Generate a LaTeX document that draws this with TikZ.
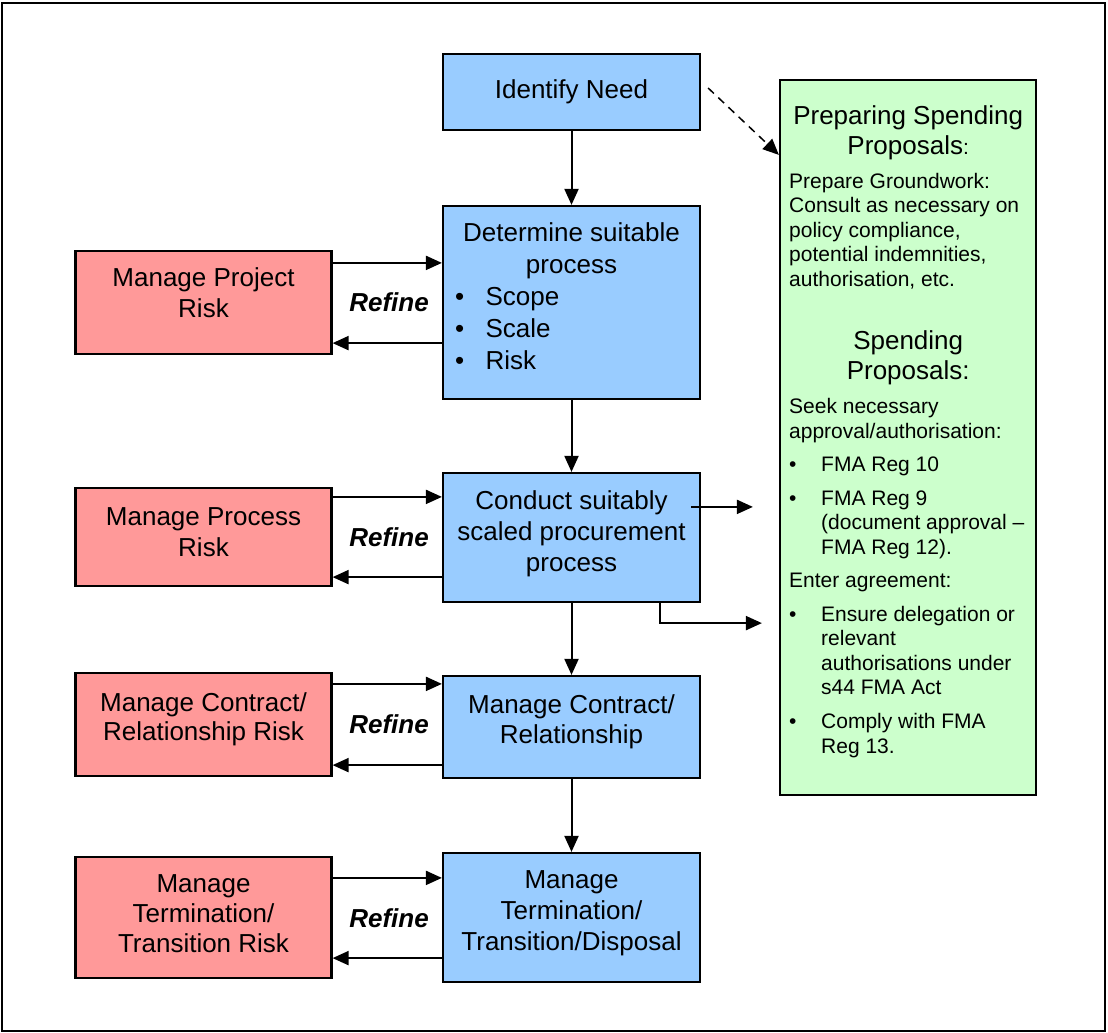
\documentclass[tikz,border=0pt]{standalone}
\usepackage{fontspec}
\setmainfont{Liberation Sans}
\usetikzlibrary{arrows.meta,calc}
\definecolor{boxblue}{HTML}{99CCFF}
\definecolor{boxred}{HTML}{FF9999}
\definecolor{boxgreen}{HTML}{CCFFCC}
\newcommand{\detitem}[1]{\makebox[233pt][l]{\textbullet\hspace{21.4pt}#1}}
\newcommand{\gitem}{\hangindent=32pt\hangafter=1\makebox[32pt][l]{\textbullet}}
\begin{document}
\begin{tikzpicture}[x=1pt,y=-1pt,
  box/.style={draw=black, line width=2.2pt, inner sep=0pt, align=center,
    font=\fontsize{26}{31}\selectfont, text depth=0pt},
  bluebox/.style={box, fill=boxblue, minimum width=257pt},
  redbox/.style={box, fill=boxred, minimum width=256pt},
  tip/.style={-{Triangle[length=16pt,width=14pt]}},
  arr/.style={line width=2pt, tip},
  refine/.style={inner sep=0pt, font=\fontsize{26}{30}\selectfont\bfseries\itshape}]
\useasboundingbox (0,0) rectangle (1108,1033);
\draw[line width=2pt] (2,3) rectangle (1105,1031);

% blue process boxes
\node[bluebox, minimum height=76pt, text height=12pt] (need) at (571.5,92) {Identify Need};
\node[bluebox, minimum height=193pt, text height=133pt, font=\fontsize{26}{32}\selectfont] (det) at (571.5,302.5)
  {Determine suitable\\process\\\detitem{Scope}\\\detitem{Scale}\\\detitem{Risk}};
\node[bluebox, minimum height=129pt, text height=67pt] (cond) at (571.5,537.5)
  {Conduct suitably\\scaled procurement\\process};
\node[bluebox, minimum height=102pt, text height=32pt, font=\fontsize{26}{30}\selectfont] (mc) at (571.5,727)
  {Manage Contract/\\Relationship};
\node[bluebox, minimum height=129pt, text height=65pt] (mt) at (571.5,917.5)
  {Manage\\Termination/\\Transition/Disposal};

% red risk boxes
\node[redbox, minimum height=103pt, text height=29pt] (rp) at (203.5,302.5) {Manage Project\\Risk};
\node[redbox, minimum height=98pt, text height=38pt] (rproc) at (203.5,537) {Manage Process\\Risk};
\node[redbox, minimum height=103pt, text height=31pt, font=\fontsize{26}{28.5}\selectfont] (rc) at (203.5,724.5) {Manage Contract/\\Relationship Risk};
\node[redbox, minimum height=121pt, text height=69pt, font=\fontsize{26}{30}\selectfont] (rt) at (203.5,917.5) {Manage\\Termination/\\Transition Risk};

% refine labels
\node[refine] (ref1) at (389,302) {Refine};
\node[refine] (ref2) at (389,537) {Refine};
\node[refine] (ref3) at (389,724) {Refine};
\node[refine] (ref4) at (389,918) {Refine};

% green box
\node[draw=black, fill=boxgreen, line width=2.2pt, inner sep=0pt,
  minimum width=256pt, minimum height=715pt] (green) at (908,437.5) {};
\node[anchor=base west, inner sep=0pt] (gtext) at (789,124) {\parbox[t]{238pt}{%
\fontsize{26}{30}\selectfont
{\centering Preparing Spending\\Proposals{\fontsize{21}{24.5}\selectfont:}\par}
\fontsize{21}{24.5}\selectfont\raggedright
\vspace{10pt}
Prepare Groundwork:\\Consult as necessary on\\policy compliance,\\potential indemnities,\\authorisation, etc.\par
\vspace{32.5pt}
{\fontsize{26}{30}\selectfont\centering Spending\\Proposals:\par}
\vspace{10pt}
Seek necessary\\approval/authorisation:\par
\vspace{8.5pt}
\gitem FMA Reg 10\par
\vspace{9.5pt}
\gitem FMA Reg 9\newline(document approval –\newline FMA Reg 12).\par
\vspace{8.5pt}
Enter agreement:\par
\vspace{9.5pt}
\gitem Ensure delegation or\newline relevant\newline authorisations under\newline s44 FMA Act\par
\vspace{9.5pt}
\gitem Comply with FMA\newline Reg 13.\par}};

% main flow
\draw[arr] (need.south) -- (det.north);
\draw[arr] (det.south) -- (cond.north);
\draw[arr] (cond.south) -- (mc.north);
\draw[arr] (mc.south) -- (mt.north);

% refine loops
\coordinate (a1) at ([yshift=-13pt]rp.north east);
\coordinate (b1) at ([yshift=12pt]rp.south east);
\draw[arr] (a1) -- (a1 -| det.west);
\draw[arr] (b1 -| det.west) -- (b1);
\coordinate (a2) at ([yshift=-10pt]rproc.north east);
\coordinate (b2) at ([yshift=10pt]rproc.south east);
\draw[arr] (a2) -- (a2 -| cond.west);
\draw[arr] (b2 -| cond.west) -- (b2);
\coordinate (a3) at ([yshift=-12pt]rc.north east);
\coordinate (b3) at ([yshift=12pt]rc.south east);
\draw[arr] (a3) -- (a3 -| mc.west);
\draw[arr] (b3 -| mc.west) -- (b3);
\coordinate (a4) at ([yshift=-22pt]rt.north east);
\coordinate (b4) at ([yshift=21pt]rt.south east);
\draw[arr] (a4) -- (a4 -| mt.west);
\draw[arr] (b4 -| mt.west) -- (b4);

% links to the green box
\coordinate (d1) at ([xshift=7pt,yshift=4pt]need.east);
\coordinate (d2) at ([yshift=-76pt]green.north west);
\draw[arr, dash pattern=on 8pt off 6pt, line width=1.5pt] (d1) -- (d2);
\coordinate (c1) at ([xshift=-10pt,yshift=-35pt]cond.north east);
\draw[arr] (c1) -- ($(c1 -| green.west)+(-26,0)$);
\coordinate (c2) at ([xshift=-41pt]cond.south east);
\draw[arr] (c2) -- ++(0,20) -- ($(c2 -| green.west)+(-17,20)$);
\end{tikzpicture}
\end{document}
